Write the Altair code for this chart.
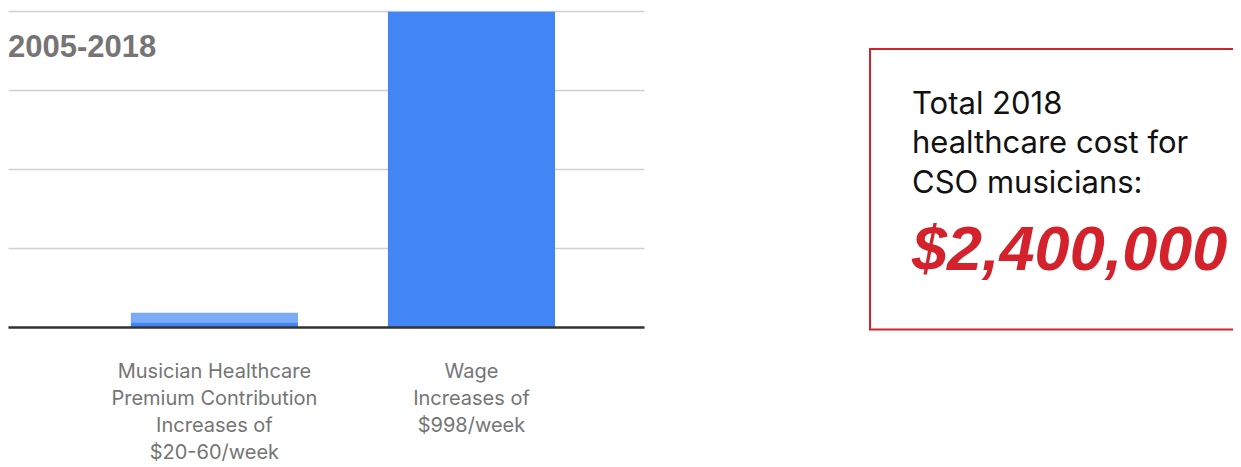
import altair as alt
import pandas as pd

# ---- data ----
categories = [
    "Musician Healthcare|Premium Contribution|Increases of|$20-60/week",
    "Wage|Increases of|$998/week",
]
segment_category = [categories[0], categories[0], categories[1]]
segment_name = ["base", "increase", "base"]
segment_value = [15, 30, 998]
segment_order = [0, 1, 0]

period_title = "2005-2018"
box_lines = "Total 2018\nhealthcare cost for\nCSO musicians:"
box_amount = "$2,400,000"

df = pd.DataFrame({
    "category": segment_category,
    "segment": segment_name,
    "value": segment_value,
    "order": segment_order,
})

SANS = "Inter, Roboto, 'Open Sans', sans-serif"
NARROW = "'Liberation Sans', Arial, sans-serif"
RED = "#d3222b"

bars = alt.Chart(df).mark_bar().encode(
    x=alt.X(
        "category:N",
        sort=categories,
        title=None,
        scale=alt.Scale(paddingInner=0.35, paddingOuter=0.412, align=0.58),
        axis=alt.Axis(
            labelAngle=0,
            labelExpr="split(datum.label, '|')",
            labelFont=SANS,
            labelFontSize=20,
            labelColor="#757575",
            labelLineHeight=27,
            labelPadding=34,
            labelLimit=0,
            ticks=False,
            domainColor="#333333",
            domainWidth=2.5,
            zindex=1,
        ),
    ),
    y=alt.Y(
        "value:Q",
        stack="zero",
        title=None,
        scale=alt.Scale(domain=[0, 1000], nice=False),
        axis=alt.Axis(
            values=[0, 250, 500, 750, 1000],
            labels=False,
            ticks=False,
            domain=False,
            grid=True,
            gridColor="#d0d0d0",
            gridWidth=1.5,
        ),
    ),
    color=alt.Color(
        "segment:N",
        scale=alt.Scale(domain=["base", "increase"], range=["#4285f4", "#7baaf7"]),
        legend=None,
    ),
    order=alt.Order("order:Q"),
)

title_txt = alt.Chart(pd.DataFrame({"t": [period_title]})).mark_text(
    align="left", baseline="alphabetic", font=NARROW, fontSize=31,
    fontWeight="bold", color="#757575",
).encode(x=alt.value(0), y=alt.value(45.5), text="t:N")

left = alt.layer(bars, title_txt).properties(width=636, height=316)

box = alt.Chart(pd.DataFrame({"k": [0]})).mark_rect(
    fillOpacity=0, stroke=RED, strokeWidth=2, clip=True,
).encode(x=alt.value(1), x2=alt.value(400), y=alt.value(38), y2=alt.value(318.5))

lines = alt.Chart(pd.DataFrame({"t": [box_lines]})).mark_text(
    align="left", baseline="alphabetic", font=SANS, fontSize=31,
    color="#111111", lineBreak="\n", lineHeight=39.5,
).encode(x=alt.value(43), y=alt.value(102.5), text="t:N")

amount = alt.Chart(pd.DataFrame({"t": [box_amount]})).mark_text(
    align="left", baseline="alphabetic", font=NARROW, fontSize=63,
    fontWeight="bold", fontStyle="italic", color=RED,
).encode(x=alt.value(43), y=alt.value(259), text="t:N")

right = alt.layer(box, lines, amount).properties(width=364, height=330)

chart = alt.hconcat(left, right, spacing=225).properties(
    padding={"top": 3, "left": 0, "right": 0, "bottom": 0},
    background="white",
).configure_view(stroke=None)

chart.save("out.html", embed_options={"renderer": "svg", "actions": False})
